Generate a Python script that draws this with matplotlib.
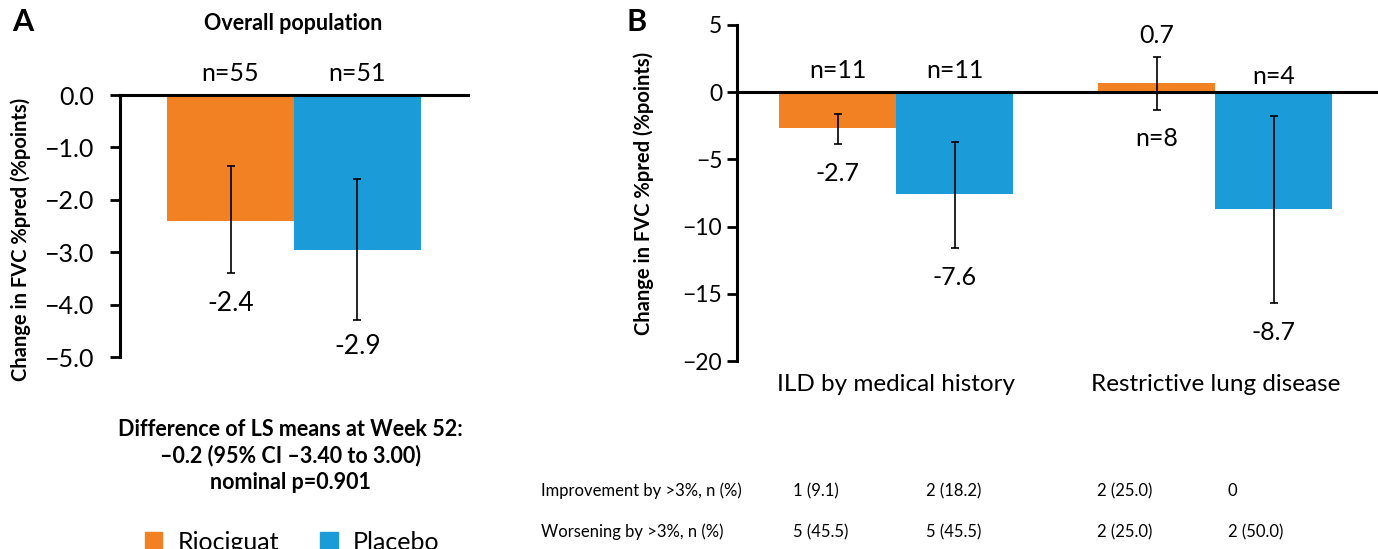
import matplotlib.pyplot as plt
from matplotlib.patches import Patch

plt.rcParams['font.family'] = ['Lato', 'DejaVu Sans']

# data
orange = '#F28124'
blue = '#1B9BD7'

# panel A: overall population
a_vals = [-2.4, -2.95]
a_err_hi = [-1.35, -1.6]
a_err_lo = [-3.4, -4.3]
a_n = ['n=55', 'n=51']
a_lbl = ['-2.4', '-2.9']
a_lbl_y = [-3.97, -4.8]

# panel B: subgroups
b_cats = ['ILD by medical history', 'Restrictive lung disease']
b_rio = [-2.7, 0.7]
b_rio_hi = [-1.6, 2.6]
b_rio_lo = [-3.85, -1.3]
b_pla = [-7.6, -8.7]
b_pla_hi = [-3.7, -1.75]
b_pla_lo = [-11.6, -15.7]
b_rio_n = ['n=11', 'n=8']
b_pla_n = ['n=11', 'n=4']

row_labels = ['Improvement by >3%, n (%)', 'Worsening by >3%, n (%)']
improve = ['1 (9.1)', '2 (18.2)', '2 (25.0)', '0']
worsen = ['5 (45.5)', '5 (45.5)', '2 (25.0)', '2 (50.0)']

fig = plt.figure(figsize=(13.78, 5.49), dpi=100)

# ---- panel A
axA = fig.add_axes([0.0871, 0.3497, 0.2525, 0.4772])
w = 1.0
xs = [-0.5, 0.5]
cols = [orange, blue]
for i in range(2):
    axA.bar(xs[i], a_vals[i], width=w, color=cols[i])
    axA.errorbar(xs[i], a_vals[i],
                 yerr=[[a_vals[i] - a_err_lo[i]], [a_err_hi[i] - a_vals[i]]],
                 fmt='none', ecolor='black', elinewidth=1.2, capsize=3, capthick=1.2)
    axA.text(xs[i], 0.2, a_n[i], ha='center', va='bottom', fontsize=18)
    axA.text(xs[i], a_lbl_y[i], a_lbl[i], ha='center', va='center', fontsize=19)
axA.axhline(0, color='black', lw=2.2, clip_on=False)
axA.set_xlim(-1.37, 1.37)
axA.set_ylim(-5, 0)
axA.set_yticks([0, -1, -2, -3, -4, -5])
axA.set_yticklabels(['0.0', '\u22121.0', '\u22122.0', '\u22123.0', '\u22124.0', '\u22125.0'])
axA.tick_params(axis='y', labelsize=18, width=2, length=7, direction='out', pad=12)
axA.set_xticks([])
for s in ['top', 'right', 'bottom']:
    axA.spines[s].set_visible(False)
axA.spines['left'].set_linewidth(2.2)
axA.set_ylabel('Change in FVC %pred (%points)', fontsize=14.5, fontweight='bold')
axA.yaxis.set_label_coords(-0.255, 0.45)

fig.text(0.009, 0.96, 'A', fontsize=22, fontweight='bold', va='center')
fig.text(0.213, 0.958, 'Overall population', fontsize=15.5, fontweight='bold', ha='center', va='center')
fig.text(0.211, 0.17, 'Difference of LS means at Week 52:\n\u20130.2 (95% CI \u20133.40 to 3.00)\nnominal p=0.901',
         fontsize=15.5, fontweight='bold', ha='center', va='center', linespacing=1.3)

handles = [Patch(color=orange), Patch(color=blue)]
fig.legend(handles, ['Riociguat', 'Placebo'], loc='center', bbox_to_anchor=(0.212, 0.012),
           ncol=2, frameon=False, fontsize=18, handlelength=0.7, handleheight=0.7,
           columnspacing=1.65, handletextpad=0.6)

# ---- panel B
axB = fig.add_axes([0.5348, 0.3424, 0.4652, 0.6121])
bw = 0.367
xb = [0, 1]
for i in range(2):
    xo = xb[i] - bw / 2
    xp = xb[i] + bw / 2
    axB.bar(xo, b_rio[i], width=bw, color=orange)
    axB.bar(xp, b_pla[i], width=bw, color=blue)
    axB.errorbar(xo, b_rio[i], yerr=[[b_rio[i] - b_rio_lo[i]], [b_rio_hi[i] - b_rio[i]]],
                 fmt='none', ecolor='black', elinewidth=1.2, capsize=3, capthick=1.2)
    axB.errorbar(xp, b_pla[i], yerr=[[b_pla[i] - b_pla_lo[i]], [b_pla_hi[i] - b_pla[i]]],
                 fmt='none', ecolor='black', elinewidth=1.2, capsize=3, capthick=1.2)
    axB.text(xp, 1.65 if i == 0 else 1.2, b_pla_n[i], ha='center', va='center', fontsize=18)
    axB.text(xp, b_pla_lo[i] - 2.2, f'{b_pla[i]:.1f}', ha='center', va='center', fontsize=18)

# riociguat labels (placement depends on bar sign)
axB.text(xb[0] - bw / 2, 1.65, b_rio_n[0], ha='center', va='center', fontsize=18)
axB.text(xb[0] - bw / 2, -6.05, f'{b_rio[0]:.1f}', ha='center', va='center', fontsize=18)
axB.text(xb[1] - bw / 2, 4.25, f'{b_rio[1]:.1f}', ha='center', va='center', fontsize=18)
axB.text(xb[1] - bw / 2, -3.45, b_rio_n[1], ha='center', va='center', fontsize=18)

axB.axhline(0, color='black', lw=2.2)
axB.set_xlim(-0.5, 1.51)
axB.set_ylim(-20, 5)
axB.set_yticks([5, 0, -5, -10, -15, -20])
axB.set_yticklabels(['5', '0', '\u22125', '\u221210', '\u221215', '\u221220'])
axB.tick_params(axis='y', labelsize=16.5, width=2, length=7, direction='out')
axB.set_xticks(xb)
axB.set_xticklabels(b_cats, fontsize=17.5)
axB.tick_params(axis='x', length=0, pad=9)
for s in ['top', 'right', 'bottom']:
    axB.spines[s].set_visible(False)
axB.spines['left'].set_linewidth(2.2)
axB.set_ylabel('Change in FVC %pred (%points)', fontsize=14.5, fontweight='bold')
axB.yaxis.set_label_coords(-0.13, 0.5)

fig.text(0.455, 0.96, 'B', fontsize=22, fontweight='bold', va='center')

# table under panel B
col_x = [793, 926, 1097, 1228]
for lab, vals, y in zip(row_labels, [improve, worsen], [491, 532]):
    yy = 1 - y / 549
    fig.text(541 / 1378, yy, lab, fontsize=12, va='center')
    for cx, v in zip(col_x, vals):
        fig.text(cx / 1378, yy, v, fontsize=12, va='center')

fig.savefig('out.png', dpi=100)
